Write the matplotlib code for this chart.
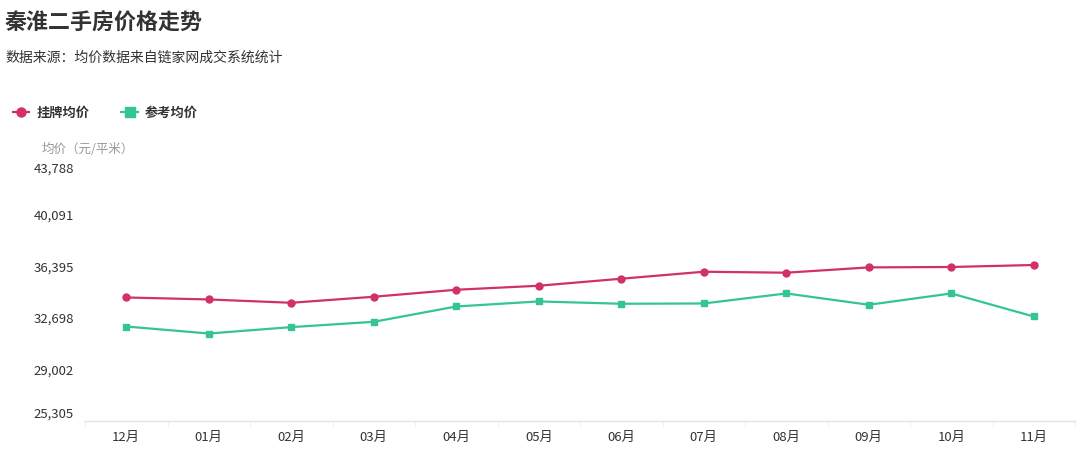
import matplotlib
matplotlib.use("Agg")
import matplotlib.pyplot as plt
from matplotlib.ticker import FixedLocator

plt.rcParams['font.family'] = ['Noto Sans CJK SC', 'DejaVu Sans']

months = ["12月", "01月", "02月", "03月", "04月", "05月", "06月", "07月", "08月", "09月", "10月", "11月"]
listing_price = [34155, 34012, 33775, 34206, 34708, 34995, 35498, 35998, 35929, 36309, 36338, 36481]
reference_price = [32074, 31572, 32031, 32411, 33510, 33870, 33704, 33725, 34443, 33632, 34443, 32792]
y_ticks = [25305, 29002, 32698, 36395, 40091, 43788]
series_names = ["挂牌均价", "参考均价"]

RED = "#d2306a"
GREEN = "#34c497"
W, H = 1077, 451
fig = plt.figure(figsize=(W / 100, H / 100), dpi=100)
fig.patch.set_facecolor("white")

ax_l, ax_r, ax_b, ax_t = 85, 1075, 421, 163
ax = fig.add_axes([ax_l / W, 1 - ax_b / H, (ax_r - ax_l) / W, (ax_b - ax_t) / H])

x = list(range(len(months)))
l1, = ax.plot(x, listing_price, color=RED, lw=1.6, marker="o", ms=5, label=series_names[0], zorder=3)
l2, = ax.plot(x, reference_price, color=GREEN, lw=1.6, marker="s", ms=5, label=series_names[1], zorder=3)

ax.set_xlim(-0.5, len(months) - 0.5)
ax.set_ylim(y_ticks[0], y_ticks[-1])

for s in ["top", "right", "left"]:
    ax.spines[s].set_visible(False)
ax.spines["bottom"].set_color("#e3e3e3")
ax.spines["bottom"].set_linewidth(1.0)

ax.set_xticks(x)
ax.set_xticklabels(months, fontsize=9.5, color="#333333")
ax.xaxis.set_minor_locator(FixedLocator([i - 0.5 for i in range(len(months) + 1)]))
ax.tick_params(axis="x", which="major", length=0, pad=7)
ax.tick_params(axis="x", which="minor", length=4, color="#ececec")

ax.set_yticks(y_ticks)
ax.set_yticklabels([f"{v:,}" for v in y_ticks], fontsize=9.5, color="#333333")
ax.tick_params(axis="y", length=0, pad=8)
labels = ax.get_yticklabels()
labels[0].set_va("bottom")
labels[0].set_y(y_ticks[0])
labels[-1].set_va("top")

fig.text(5 / W, 1 - 22 / H, "秦淮二手房价格走势", fontsize=15.8, fontweight="bold",
         color="#333333", va="center", ha="left")
fig.text(5 / W, 1 - 58 / H, "数据来源：均价数据来自链家网成交系统统计", fontsize=10,
         color="#333333", va="center", ha="left")
fig.text(42 / W, 1 - 149 / H, "均价（元/平米）", fontsize=9, color="#999999",
         va="center", ha="left")

leg = fig.legend(handles=[l1, l2], loc="center left", bbox_to_anchor=(1 / W, 1 - 113 / H),
                 ncol=2, frameon=False, handlelength=1.25, handletextpad=0.55,
                 markerscale=1.3, columnspacing=2.4, prop={"weight": "bold", "size": 9.5})
for t in leg.get_texts():
    t.set_color("#333333")

fig.savefig("out.png", dpi=100, facecolor="white")
